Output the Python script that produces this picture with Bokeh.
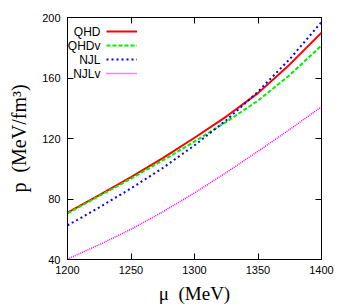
from bokeh.plotting import figure
from bokeh.models import (LinearAxis, FixedTicker, Range1d, Legend, LegendItem, Label)
from bokeh.embed import file_html
from bokeh.resources import INLINE

# data
mu = [1200, 1225, 1250, 1275, 1300, 1325, 1350, 1375, 1400]
qhd = [71.0, 82.5, 94.5, 107.0, 120.5, 134.5, 150.0, 169.0, 190.0]
qhdv = [70.5, 82.0, 93.5, 105.5, 118.0, 131.0, 145.0, 162.0, 181.5]
njl = [62.5, 74.5, 87.0, 100.5, 115.5, 132.0, 151.0, 172.5, 197.0]
njlv = [40.3, 49.8, 60.0, 71.5, 84.0, 97.5, 111.5, 126.0, 141.0]
series_names = ["QHD", "QHDv", "NJL", "NJLv"]
x_ticks = [1200, 1250, 1300, 1350, 1400]
y_ticks = [40, 80, 120, 160, 200]

FW, FH = 254, 242
p = figure(frame_width=FW, frame_height=FH, output_backend="svg", toolbar_location=None,
           x_range=Range1d(1200, 1400), y_range=Range1d(40, 200),
           min_border_left=67, min_border_right=17, min_border_top=17, min_border_bottom=46)
p.xgrid.visible = False
p.ygrid.visible = False
p.outline_line_color = "black"
p.outline_line_width = 1
p.background_fill_color = "white"
p.border_fill_color = "white"

tick_font = "Liberation Sans"
for ax in p.xaxis + p.yaxis:
    ax.major_tick_in = 6
    ax.major_tick_out = 0
    ax.minor_tick_line_color = None
    ax.axis_line_color = "black"
    ax.major_tick_line_color = "black"
    ax.major_label_text_font = tick_font
    ax.major_label_text_font_size = "11px"
    ax.major_label_text_color = "black"
    ax.axis_label_text_font = "Liberation Serif"
    ax.axis_label_text_font_style = "normal"
    ax.axis_label_text_color = "black"

p.xaxis.ticker = FixedTicker(ticks=x_ticks)
p.yaxis.ticker = FixedTicker(ticks=y_ticks)
p.xaxis.axis_label = "\u03bc\u00a0\u00a0(MeV)"
p.xaxis.axis_label_text_font_size = "19px"
p.xaxis.major_label_standoff = 6
p.xaxis.axis_label_standoff = 6
p.yaxis.axis_label = "p\u00a0\u00a0(MeV/fm\u00b3)"
p.yaxis.axis_label_text_font_size = "20px"
p.yaxis.major_label_standoff = 7
p.yaxis.axis_label_standoff = 9

# mirrored ticks on top and right
top = LinearAxis(ticker=FixedTicker(ticks=x_ticks), major_label_text_font_size="0px",
                 major_label_standoff=0, axis_line_color=None, major_tick_in=6,
                 major_tick_out=0, minor_tick_line_color=None, major_label_text_color=None)
right = LinearAxis(ticker=FixedTicker(ticks=y_ticks), major_label_text_font_size="0px",
                   major_label_standoff=0, axis_line_color=None, major_tick_in=6,
                   major_tick_out=0, minor_tick_line_color=None, major_label_text_color=None)
p.add_layout(top, "above")
p.add_layout(right, "right")

r1 = p.line(mu, qhd, line_color="#ff0000", line_width=2)
r2 = p.line(mu, qhdv, line_color="#00ee00", line_width=2, line_dash="4 2")
r3 = p.line(mu, njl, line_color="#0000ff", line_width=2, line_dash="2 3")
r4 = p.line(mu, njlv, line_color="#ff00ff", line_width=1.5, line_dash="1 1")

legend = Legend(items=[LegendItem(label=" ", renderers=[r]) for r in (r1, r2, r3, r4)],
                location=(39, FH - 63), glyph_width=31, glyph_height=14, label_width=0,
                label_standoff=0, label_height=14, label_text_font_size="1px",
                padding=0, margin=0, spacing=0, border_line_color=None,
                background_fill_alpha=0)
p.add_layout(legend)

for i, name in enumerate(series_names):
    p.add_layout(Label(x=33, y=FH - 14 - 14 * i, x_units="screen", y_units="screen",
                       text=name, text_align="right", text_baseline="middle",
                       text_font=tick_font, text_font_size="12px", text_color="black"))

open("out.html", "w").write(file_html(p, INLINE))
